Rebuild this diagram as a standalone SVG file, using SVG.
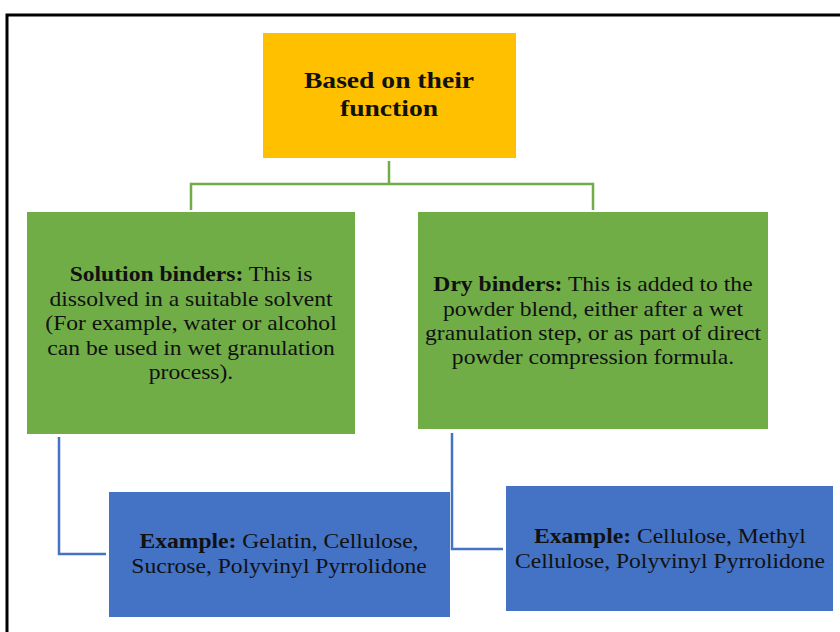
<svg xmlns="http://www.w3.org/2000/svg" width="840" height="632" viewBox="0 0 840 632">
<style>
text{font-family:"Liberation Serif","Times New Roman",serif;fill:#111;text-anchor:middle}
.t{font-size:20px}
.h{font-size:23px;font-weight:bold}
.b{font-weight:bold}
.conn-g{stroke:#70AD47;stroke-width:2.5;fill:none}
.conn-b{stroke:#4472C4;stroke-width:2.5;fill:none}
</style>
<rect width="840" height="632" fill="#fff"/>
<path d="M7,632 V15 H840" fill="none" stroke="#000" stroke-width="3"/>
<g id="connectors">
<path class="conn-g" d="M389,161 V184 M191,210 V184 H593 V210"/>
<path class="conn-b" d="M59,437 V554 H106"/>
<path class="conn-b" d="M452,433 V549 H503"/>
</g>
<g id="node-top">
<rect x="263" y="33" width="253" height="125" fill="#FFC000"/>
<g transform="translate(389,0) scale(1.2,1)">
<text class="h" x="0" y="88">Based on their</text>
<text class="h" x="0" y="116">function</text>
</g>
</g>
<g id="node-solution">
<rect x="27" y="212" width="328" height="222" fill="#70AD47"/>
<g transform="translate(191,0) scale(1.18,1)">
<text class="t" x="0" y="281"><tspan class="b">Solution binders:</tspan> This is</text>
<text class="t" x="0" y="306">dissolved in a suitable solvent</text>
<text class="t" x="0" y="330">(For example, water or alcohol</text>
<text class="t" x="0" y="355">can be used in wet granulation</text>
<text class="t" x="0" y="379">process).</text>
</g>
</g>
<g id="node-dry">
<rect x="418" y="212" width="350" height="217" fill="#70AD47"/>
<g transform="translate(593,0) scale(1.18,1)">
<text class="t" x="0" y="291"><tspan class="b">Dry binders:</tspan> This is added to the</text>
<text class="t" x="0" y="316">powder blend, either after a wet</text>
<text class="t" x="0" y="340">granulation step, or as part of direct</text>
<text class="t" x="0" y="364">powder compression formula.</text>
</g>
</g>
<g id="node-ex1">
<rect x="109" y="492" width="341" height="125" fill="#4472C4"/>
<g transform="translate(279,0) scale(1.18,1)">
<text class="t" x="0" y="548"><tspan class="b">Example:</tspan> Gelatin, Cellulose,</text>
<text class="t" x="0" y="573">Sucrose, Polyvinyl Pyrrolidone</text>
</g>
</g>
<g id="node-ex2">
<rect x="506" y="486" width="327" height="125" fill="#4472C4"/>
<g transform="translate(670,0) scale(1.18,1)">
<text class="t" x="0" y="543"><tspan class="b">Example:</tspan> Cellulose, Methyl</text>
<text class="t" x="0" y="568">Cellulose, Polyvinyl Pyrrolidone</text>
</g>
</g>
</svg>
